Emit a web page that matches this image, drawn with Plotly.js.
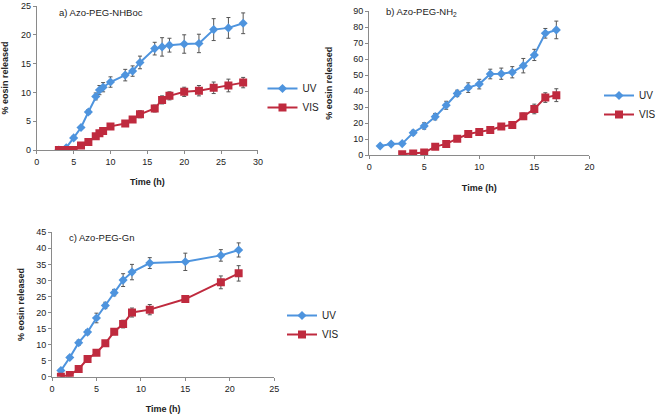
<!DOCTYPE html>
<html>
<head>
<meta charset="utf-8">
<script src="https://cdn.plot.ly/plotly-3.0.1.min.js"></script>
<style>html,body{margin:0;padding:0;background:#fff;}#chart{width:661px;height:417px;}</style>
</head>
<body>
<div id="chart"></div>
<script>
// Panel a) Azo-PEG-NHBoc
var aTime    = [3, 4, 5, 6, 7, 8, 8.5, 9, 10, 12, 13, 14, 16, 17, 18, 20, 22, 24, 26, 28];
var aUV      = [0, 0.4, 2.1, 3.9, 6.6, 9.3, 10.4, 10.9, 11.8, 13.0, 13.7, 15.2, 17.6, 17.9, 18.2, 18.4, 18.5, 20.9, 21.2, 22.0];
var aUVErr   = [0.1, 0.2, 0.3, 0.3, 0.4, 0.6, 0.8, 0.8, 0.9, 1.0, 0.9, 1.1, 1.1, 1.6, 1.2, 1.6, 1.6, 1.9, 1.8, 1.8];
var aVIS     = [0, 0, 0, 0.8, 1.4, 2.4, 2.9, 3.3, 4.1, 4.6, 5.3, 6.2, 7.2, 8.7, 9.4, 10.1, 10.3, 10.8, 11.2, 11.7];
var aVISErr  = [0.1, 0.1, 0.1, 0.2, 0.3, 0.4, 0.4, 0.4, 0.5, 0.5, 0.5, 0.6, 0.6, 0.7, 0.7, 0.8, 0.9, 1.0, 1.1, 0.9];

// Panel b) Azo-PEG-NH2
var bTimeUV  = [1, 2, 3, 4, 5, 6, 7, 8, 9, 10, 11, 12, 13, 14, 15, 16, 17];
var bUV      = [5.8, 7.0, 7.3, 14.1, 18.3, 24.1, 31.2, 38.6, 42.2, 44.4, 50.7, 50.9, 51.8, 55.9, 62.6, 76.1, 78.2];
var bUVErr   = [1.0, 1.0, 1.2, 1.5, 2.0, 2.0, 2.5, 2.0, 3.0, 3.0, 3.0, 3.5, 3.5, 4.5, 3.5, 3.0, 5.5];
var bTimeVIS = [3, 4, 5, 6, 7, 8, 9, 10, 11, 12, 13, 14, 15, 16, 17];
var bVIS     = [0.6, 1.2, 1.7, 5.4, 7.1, 10.4, 13.3, 14.6, 15.8, 17.9, 18.9, 24.3, 28.9, 36.0, 37.5];
var bVISErr  = [0.4, 0.5, 0.5, 0.8, 1.0, 1.0, 1.2, 1.2, 1.2, 1.3, 1.5, 2.0, 3.0, 3.0, 4.0];

// Panel c) Azo-PEG-Gn
var cTime    = [1, 2, 3, 4, 5, 6, 7, 8, 9, 11, 15, 19, 21];
var cUV      = [1.9, 6.0, 10.6, 13.9, 18.3, 22.2, 26.2, 30.1, 32.6, 35.4, 35.8, 37.8, 39.5];
var cUVErr   = [0.5, 0.6, 0.8, 0.8, 1.5, 1.0, 1.0, 2.0, 2.4, 1.7, 2.7, 1.8, 2.2];
var cVIS     = [0, 0.5, 2.4, 5.5, 7.5, 10.4, 14.0, 16.4, 20.0, 20.9, 24.2, 29.4, 32.2];
var cVISErr  = [0.3, 0.3, 0.5, 0.6, 0.6, 0.8, 0.9, 1.2, 1.4, 1.6, 1.0, 2.0, 2.4];

var panelTitles = ["a) Azo-PEG-NHBoc", "b) Azo-PEG-NH<sub>2</sub>", "c) Azo-PEG-Gn"];
var seriesNames = ["UV", "VIS"];
var xTitle = "Time (h)";
var yTitle = "% eosin released";

var uvColor = "#4E94DE";
var visColor = "#BF2A3E";
var errColor = "#555555";
var font = "Liberation Sans, Arial, sans-serif";

function uvTrace(x, y, e, xa, ya, lg) {
  return {x: x, y: y, name: seriesNames[0], xaxis: xa, yaxis: ya, legend: lg,
    type: "scatter", mode: "lines+markers",
    line: {color: uvColor, width: 2},
    marker: {symbol: "diamond", size: 7, color: uvColor},
    error_y: {type: "data", array: e, visible: true, color: errColor, thickness: 1, width: 2}};
}
function visTrace(x, y, e, xa, ya, lg) {
  return {x: x, y: y, name: seriesNames[1], xaxis: xa, yaxis: ya, legend: lg,
    type: "scatter", mode: "lines+markers",
    line: {color: visColor, width: 2},
    marker: {symbol: "square", size: 8, color: visColor},
    error_y: {type: "data", array: e, visible: true, color: errColor, thickness: 1, width: 2}};
}

var data = [
  uvTrace(aTime, aUV, aUVErr, "x", "y", "legend"),
  visTrace(aTime, aVIS, aVISErr, "x", "y", "legend"),
  uvTrace(bTimeUV, bUV, bUVErr, "x2", "y2", "legend2"),
  visTrace(bTimeVIS, bVIS, bVISErr, "x2", "y2", "legend2"),
  uvTrace(cTime, cUV, cUVErr, "x3", "y3", "legend3"),
  visTrace(cTime, cVIS, cVISErr, "x3", "y3", "legend3")
];

var W = 661, H = 417;
function dx(a, b) { return [a / W, b / W]; }
function dy(top, bottom) { return [1 - bottom / H, 1 - top / H]; }

function xAxis(dom, range, anchor, standoff) {
  return {domain: dom, range: range, dtick: 5, anchor: anchor,
    showline: true, linecolor: "#8a8a8a", linewidth: 1, ticks: "outside", ticklen: 3, tickcolor: "#8a8a8a",
    showgrid: false, zeroline: false, tickfont: {family: font, size: 9, color: "#222"},
    title: {text: "<b>" + xTitle + "</b>", font: {family: font, size: 9, color: "#222"}, standoff: standoff}};
}
function yAxis(dom, range, dtick, anchor, standoff) {
  return {domain: dom, range: range, dtick: dtick, anchor: anchor,
    showline: true, linecolor: "#8a8a8a", linewidth: 1, ticks: "outside", ticklen: 3, tickcolor: "#8a8a8a",
    showgrid: false, zeroline: false, tickfont: {family: font, size: 9, color: "#222"},
    title: {text: "<b>" + yTitle + "</b>", font: {family: font, size: 9, color: "#222"}, standoff: standoff}};
}
function legendAt(x, y) {
  return {x: x / W, y: 1 - y / H, xanchor: "left", yanchor: "middle", bgcolor: "rgba(0,0,0,0)",
    font: {family: font, size: 10, color: "#222"}, tracegroupgap: 0, itemwidth: 30};
}

var layout = {
  width: W, height: H,
  margin: {l: 0, r: 0, t: 0, b: 0},
  paper_bgcolor: "#fff", plot_bgcolor: "#fff",
  showlegend: true,
  xaxis:  xAxis(dx(37.7, 264.3), [0, 30], "y", 12),
  yaxis:  yAxis(dy(6, 150), [0, 25], 5, "x", 14),
  xaxis2: xAxis(dx(378.3, 604), [0, 20], "y2", 13),
  yaxis2: yAxis(dy(11, 155.3), [0, 90], 10, "x2", 19),
  xaxis3: xAxis(dx(53.3, 281), [0, 25], "y3", 13),
  yaxis3: yAxis(dy(232.3, 376.7), [0, 45], 5, "x3", 10),
  legend:  legendAt(269, 98),
  legend2: legendAt(614, 105),
  legend3: legendAt(289, 325),
  annotations: [
    {text: panelTitles[0], xref: "paper", yref: "paper", x: 58 / W, y: 1 - 12 / H, xanchor: "left", yanchor: "middle", showarrow: false, font: {family: font, size: 9.5, color: "#222"}},
    {text: panelTitles[1], xref: "paper", yref: "paper", x: 394 / W, y: 1 - 12 / H, xanchor: "left", yanchor: "middle", showarrow: false, font: {family: font, size: 9.5, color: "#222"}},
    {text: panelTitles[2], xref: "paper", yref: "paper", x: 69 / W, y: 1 - 237 / H, xanchor: "left", yanchor: "middle", showarrow: false, font: {family: font, size: 9.5, color: "#222"}}
  ]
};

Plotly.newPlot("chart", data, layout, {displayModeBar: false, staticPlot: true});
</script>
</body>
</html>
